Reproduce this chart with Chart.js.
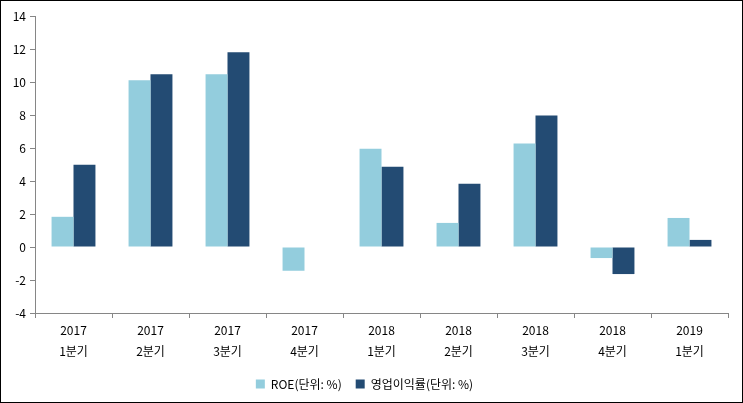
<!DOCTYPE html>
<html>
<head>
<meta charset="utf-8">
<script src="https://cdn.jsdelivr.net/npm/chart.js@4"></script>
<style>
  html, body { margin: 0; padding: 0; background: #fff; }
  #wrap { width: 743px; height: 403px; box-sizing: border-box; border: 1px solid #000; }
  canvas { display: block; }
</style>
</head>
<body>
<div id="wrap"><canvas id="chart" width="741" height="401"></canvas></div>
<script>
const years = ["2017", "2017", "2017", "2017", "2018", "2018", "2018", "2018", "2019"];
const quarters = ["1분기", "2분기", "3분기", "4분기", "1분기", "2분기", "3분기", "4분기", "1분기"];
const roe = [1.83, 10.1, 10.47, -1.44, 5.96, 1.46, 6.27, -0.67, 1.76];
const opMargin = [4.99, 10.47, 11.8, null, 4.87, 3.83, 7.97, -1.64, 0.43];
const yTicks = [-4, -2, 0, 2, 4, 6, 8, 10, 12, 14];

const labels = years.map((y, i) => [y, quarters[i]]);
const axisColor = "#868686";
const font = "'Noto Sans CJK KR', 'Noto Sans', sans-serif";

new Chart(document.getElementById("chart"), {
  type: "bar",
  data: {
    labels: labels,
    datasets: [
      {
        label: "ROE(단위: %)",
        data: roe,
        backgroundColor: "#93CDDD",
        categoryPercentage: 0.57,
        barPercentage: 1,
      },
      {
        label: "영업이익률(단위: %)",
        data: opMargin,
        backgroundColor: "#234B73",
        categoryPercentage: 0.57,
        barPercentage: 1,
      },
    ],
  },
  options: {
    responsive: false,
    animation: false,
    layout: { padding: { top: 15, right: 14, left: 0, bottom: 2 } },
    scales: {
      x: {
        grid: { offset: true, drawOnChartArea: false, color: axisColor, tickLength: 5 },
        border: { color: axisColor, width: 1 },
        ticks: {
          color: "#000",
          font: { family: font, size: 12, lineHeight: 1.75 },
          padding: 2,
          maxRotation: 0,
        },
      },
      y: {
        min: -4,
        max: 14,
        afterBuildTicks: (s) => { s.ticks = yTicks.map((v) => ({ value: v })); },
        afterFit: (s) => { s.width = 34; },
        grid: { drawOnChartArea: false, color: axisColor, tickLength: 5 },
        border: { color: axisColor, width: 1 },
        ticks: {
          color: "#000",
          font: { family: font, size: 12 },
          padding: 4,
        },
      },
    },
    plugins: {
      legend: {
        position: "bottom",
        labels: {
          boxWidth: 9,
          boxHeight: 9,
          color: "#000",
          font: { family: font, size: 12 },
          padding: 14,
        },
      },
      tooltip: { enabled: false },
    },
  },
});
</script>
</body>
</html>
